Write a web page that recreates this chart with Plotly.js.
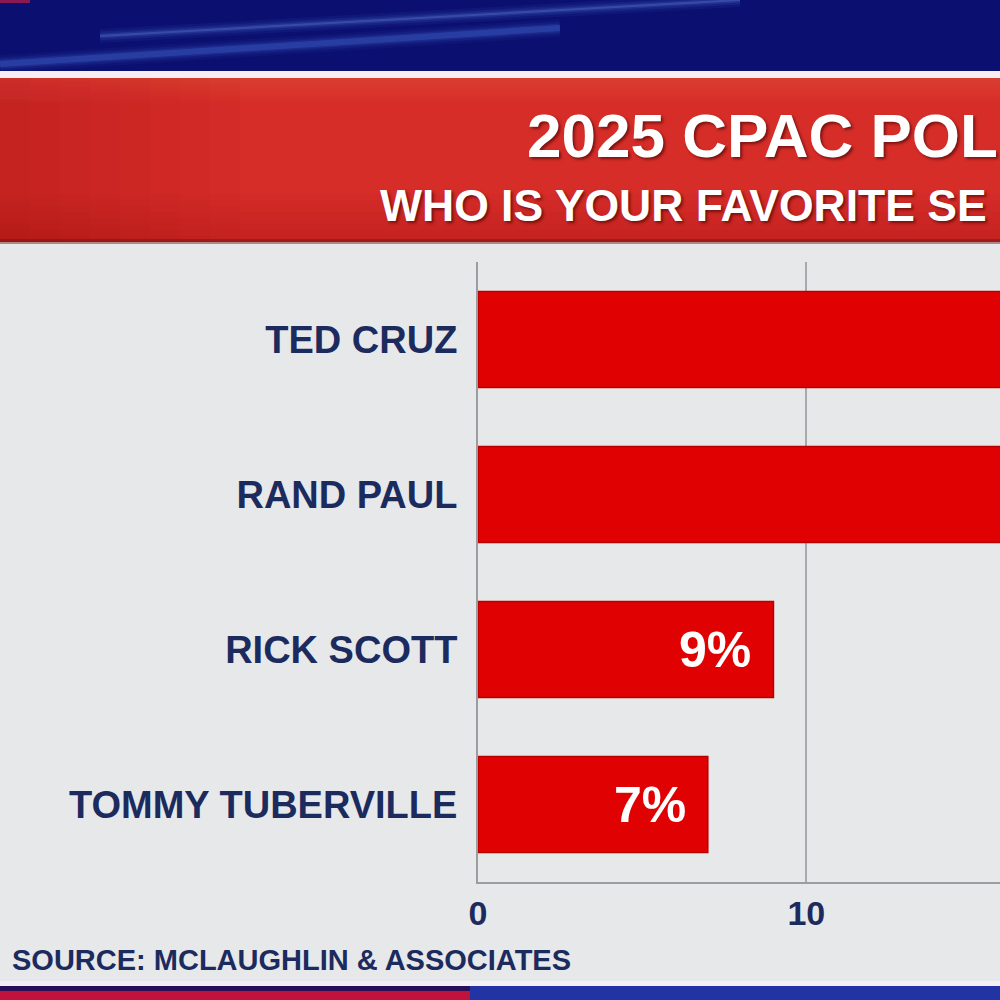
<!DOCTYPE html>
<html><head><meta charset="utf-8">
<script src="https://cdn.plot.ly/plotly-3.0.1.min.js"></script>
<style>html,body{margin:0;padding:0;background:#e7e8ea;}#chart{width:1000px;height:1000px;}</style>
</head><body><div id="chart"></div>
<script>
// ---- data ----
const senators = ["TED CRUZ", "RAND PAUL", "RICK SCOTT", "TOMMY TUBERVILLE"];
const shares = [21, 18, 9, 7];
const xTickVals = [0, 10, 20];
const xTickText = ["0", "10", "20"];
const titleText = "2025 CPAC POL";            // visible part of the cropped header
const subtitleText = "WHO IS YOUR FAVORITE SE"; // visible part of the cropped header
const sourceText = "SOURCE: MCLAUGHLIN &amp; ASSOCIATES";

// ---- style ----
const FONT = "Liberation Sans, Arial, sans-serif";
const NAVY = "#1c2b5e";
const BAR = "#e00202";
const BG = "#e7e8ea";

function px(x) { return x / 1000; }
function py(y) { return 1 - y / 1000; }
function rect(x0, y0, x1, y1, color, extra) {
  return Object.assign({type: "rect", xref: "paper", yref: "paper",
    x0: px(x0), x1: px(x1), y0: py(y1), y1: py(y0),
    fillcolor: color, line: {width: 0}, layer: "above"}, extra || {});
}
function seg(x0, y0, x1, y1, color, w) {
  return {type: "line", xref: "paper", yref: "paper",
    x0: px(x0), x1: px(x1), y0: py(y0), y1: py(y1),
    line: {color: color, width: w}, layer: "above"};
}

const trace = {
  type: "bar", orientation: "h",
  x: shares, y: senators,
  marker: {color: BAR, line: {color: "#b80000", width: 1.5}},
  hoverinfo: "skip"
};

const valueLabels = shares.map((v, i) => ({
  x: v, y: senators[i], xref: "x", yref: "y",
  text: v + "%", showarrow: false, xanchor: "right", yanchor: "middle",
  xshift: -20,
  font: {family: FONT, size: 50, color: "#ffffff", weight: 700}
}));

const shapes = [];
// top blue band
shapes.push(rect(0, 0, 1000, 71, "#0a0f70"));
[[14, 0.06], [9, 0.09], [5, 0.14], [2, 0.25]].forEach(([w, a]) => {
  shapes.push(seg(100, 36, 740, 0, "rgba(110,150,240," + a + ")", w));
  shapes.push(seg(0, 64, 560, 28, "rgba(90,130,235," + a * 0.9 + ")", w + 4));
});
shapes.push(rect(0, 0, 30, 3, "rgba(190,30,70,0.7)"));
// white separator
shapes.push(rect(0, 71, 1000, 78, "#f6eef2"));
// red header band with soft gradient
shapes.push(rect(0, 78, 1000, 242, "#d62d28"));
for (let k = 0; k < 8; k++) {
  shapes.push(rect(0, 78, 1000, 78 + 3 * (k + 1), "rgba(240,100,80,0.05)"));
  shapes.push(rect(0, 242 - 6 * (k + 1), 1000, 242, "rgba(140,0,0,0.025)"));
  shapes.push(rect(0, 78, 30 * (k + 1), 242, "rgba(120,0,0,0.022)"));
}
shapes.push(rect(0, 239, 1000, 244, "rgba(110,20,20,0.45)"));
// bottom bands
shapes.push(rect(0, 981, 1000, 986, "#f4f1f6"));
shapes.push(rect(0, 986, 1000, 1000, "#2233a4"));
shapes.push(rect(0, 986, 470, 1000, "#c0123c"));
shapes.push(rect(0, 986, 470, 991, "#2a1058"));

const annotations = valueLabels.concat([
  {xref: "paper", yref: "paper", x: px(378), y: py(206), xanchor: "left", yanchor: "middle",
   text: subtitleText, showarrow: false,
   font: {family: FONT, size: 44.5, color: "#ffffff", weight: 700, shadow: "2px 2px 3px rgba(60,0,0,0.6)"}},
  {xref: "paper", yref: "paper", x: px(10), y: py(960), xanchor: "left", yanchor: "middle",
   text: sourceText, showarrow: false,
   font: {family: FONT, size: 29, color: NAVY, weight: 700}}
]);

const layout = {
  width: 1000, height: 1000,
  margin: {l: 0, r: 0, t: 0, b: 0},
  paper_bgcolor: BG, plot_bgcolor: BG,
  showlegend: false,
  bargap: 0.38,
  title: {text: titleText, x: px(527), xanchor: "left", xref: "container",
          y: py(135), yanchor: "middle", yref: "container",
          font: {family: FONT, size: 62, color: "#ffffff", weight: 700, shadow: "2px 2px 3px rgba(60,0,0,0.6)"}},
  xaxis: {domain: [px(478), 1], range: [0, 15.9], fixedrange: true,
          tickvals: xTickVals, ticktext: xTickText,
          showgrid: true, gridcolor: "#a8a9ad", gridwidth: 2,
          zeroline: false, showline: true, linecolor: "#9c9da1", linewidth: 2,
          ticks: "", ticklabelstandoff: 0,
          tickfont: {family: FONT, size: 34, color: NAVY, weight: 700}},
  yaxis: {domain: [py(882), py(262)], autorange: "reversed", fixedrange: true,
          type: "category", categoryorder: "array", categoryarray: senators,
          showgrid: false, zeroline: false, showline: true, linecolor: "#9c9da1", linewidth: 2,
          ticks: "", ticklabelstandoff: 11,
          tickfont: {family: FONT, size: 38, color: NAVY, weight: 700}},
  shapes: shapes,
  annotations: annotations
};

Plotly.newPlot("chart", [trace], layout, {staticPlot: true, displayModeBar: false});
</script>
</body></html>
